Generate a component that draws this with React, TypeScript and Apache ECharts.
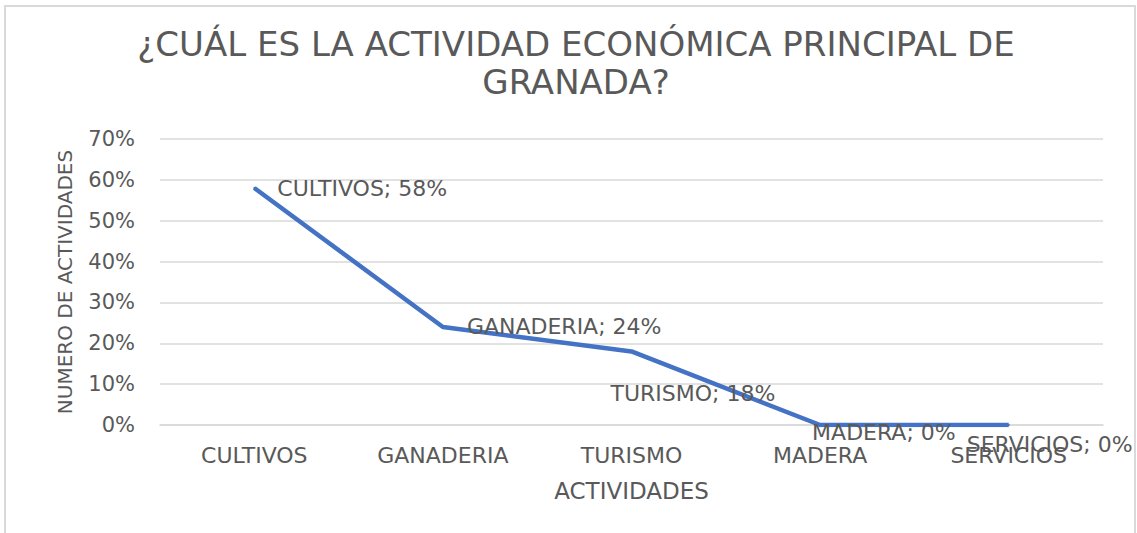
import React, { useEffect, useRef } from "react";
import * as echarts from "echarts";

const titleText = "¿CUÁL ES LA ACTIVIDAD ECONÓMICA PRINCIPAL DE\nGRANADA?";
const categories = ["CULTIVOS", "GANADERIA", "TURISMO", "MADERA", "SERVICIOS"];
const values = [58, 24, 18, 0, 0];
const xAxisTitle = "ACTIVIDADES";
const yAxisTitle = "NUMERO DE ACTIVIDADES";
// label offsets [dx, dy] relative to each point
const labelOffsets = [
  [22, 0],
  [23, 0],
  [-22, 42],
  [-9, 7],
  [-43, 19],
];

const FONT = "DejaVu Sans";
const TEXT = "#595959";

export default function App() {
  const ref = useRef<HTMLDivElement>(null);
  useEffect(() => {
    if (!ref.current) return;
    const chart = echarts.init(ref.current, undefined, { renderer: "svg" });
    chart.setOption({
      animation: false,
      backgroundColor: "#ffffff",
      textStyle: { fontFamily: FONT, color: TEXT },
      title: {
        text: titleText,
        left: 571,
        top: 20,
        textAlign: "center",
        textStyle: {
          fontFamily: FONT,
          fontSize: 34,
          fontWeight: "normal",
          color: TEXT,
          lineHeight: 38,
        },
      },
      graphic: [
        { type: "rect", shape: { x: 4, y: 5, width: 1132, height: 2 }, style: { fill: "#d9d9d9" } },
        { type: "rect", shape: { x: 4, y: 5, width: 2, height: 528 }, style: { fill: "#d9d9d9" } },
        { type: "rect", shape: { x: 1134, y: 5, width: 2, height: 528 }, style: { fill: "#d9d9d9" } },
      ],
      grid: { left: 160, right: 34, top: 139, bottom: 108 },
      xAxis: {
        type: "category",
        data: categories,
        boundaryGap: true,
        name: xAxisTitle,
        nameLocation: "middle",
        nameGap: 54,
        nameTextStyle: { fontFamily: FONT, fontSize: 23, color: TEXT },
        axisLine: { show: true, lineStyle: { color: "#d9d9d9", width: 1.5 } },
        axisTick: { show: false },
        axisLabel: { fontFamily: FONT, fontSize: 22, color: TEXT, margin: 19 },
      },
      yAxis: {
        type: "value",
        min: 0,
        max: 70,
        interval: 10,
        name: yAxisTitle,
        nameLocation: "middle",
        nameGap: 85,
        nameRotate: 90,
        nameTextStyle: { fontFamily: FONT, fontSize: 20, color: TEXT },
        axisLine: { show: false },
        axisTick: { show: false },
        axisLabel: { fontFamily: FONT, fontSize: 21, color: TEXT, margin: 25, formatter: "{value}%" },
        splitLine: { lineStyle: { color: "#d9d9d9", width: 1.5 } },
      },
      series: [
        {
          type: "line",
          data: values.map((v, i) => ({
            value: v,
            label: { offset: labelOffsets[i] },
          })),
          symbol: "circle",
          symbolSize: 2,
          itemStyle: { color: "#4472C4" },
          lineStyle: { color: "#4472C4", width: 4.5 },
          label: {
            show: true,
            position: "right",
            distance: 0,
            fontFamily: FONT,
            fontSize: 22,
            color: TEXT,
            formatter: (p: any) => `${p.name}; ${p.value}%`,
          },
        },
      ],
    });
    return () => chart.dispose();
  }, []);
  return (
    <div
      ref={ref}
      style={{ position: "fixed", left: 0, top: 0, width: 1137, height: 533 }}
    />
  );
}
